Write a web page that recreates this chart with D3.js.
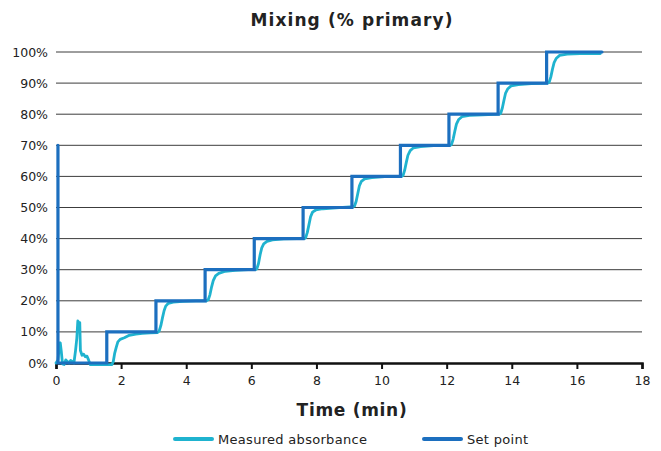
<!DOCTYPE html>
<html>
<head>
<meta charset="utf-8">
<script src="https://cdn.jsdelivr.net/npm/d3@7"></script>
<style>
  html, body { margin: 0; padding: 0; background: #fff; }
  text { font-family: "DejaVu Sans", Verdana, sans-serif; }
</style>
</head>
<body>
<svg id="chart" width="661" height="451"></svg>
<script>
// ---- Data ----
const chartTitle = "Mixing (% primary)";
const xAxisTitle = "Time (min)";
const seriesNames = ["Measured absorbance", "Set point"];
const xTicks = [0, 2, 4, 6, 8, 10, 12, 14, 16, 18];
const yTicks = [0, 10, 20, 30, 40, 50, 60, 70, 80, 90, 100];

// Set point (step-after): time (min), value (%)
const setTimes  = [0.06, 0.06, 1.56, 3.07, 4.58, 6.09, 7.59, 9.09, 10.58, 12.07, 13.58, 15.07, 16.77];
const setValues = [70,   0,    10,   20,   30,   40,   50,   60,   70,    80,    90,    100,   100];

// Measured absorbance: time (min), value (%)
const measTimes = [
  0, 0.06, 0.1, 0.13, 0.16, 0.2, 0.25, 0.3, 0.35, 0.4, 0.45, 0.5, 0.55, 0.6, 0.64, 0.67, 0.7, 0.73, 0.75, 0.8, 0.85, 0.9, 0.95, 1.0, 1.05, 1.3, 1.6, 1.72,
  1.76, 1.8, 1.85, 1.9, 1.97, 2.1, 2.25, 2.45, 2.65, 2.9, 3.12,
  3.17, 3.22, 3.27, 3.32, 3.37, 3.45, 3.6, 3.9, 4.3, 4.62,
  4.68, 4.73, 4.78, 4.83, 4.9, 5.0, 5.2, 5.5, 5.9, 6.13,
  6.17, 6.22, 6.27, 6.32, 6.38, 6.48, 6.65, 7.0, 7.4, 7.63,
  7.67, 7.72, 7.77, 7.82, 7.88, 7.98, 8.2, 8.6, 9.13,
  9.17, 9.22, 9.27, 9.32, 9.38, 9.48, 9.7, 10.1, 10.62,
  10.66, 10.71, 10.76, 10.81, 10.88, 10.98, 11.2, 11.6, 12.11,
  12.15, 12.2, 12.25, 12.3, 12.37, 12.47, 12.7, 13.1, 13.62,
  13.66, 13.71, 13.76, 13.81, 13.88, 13.98, 14.2, 14.6, 15.1,
  15.15, 15.2, 15.25, 15.3, 15.37, 15.47, 15.7, 16.1, 16.72
];
const measValues = [
  0, 1, 5, 6.5, 4, -0.3, -0.5, 1, 0.5, 0, 0.8, 0.5, 0, 4, 8, 13.5, 13, 13, 4, 2.5, 2.8, 2, 2.2, 1, -0.5, -0.5, -0.5, -0.5,
  0.5, 3, 5, 6.8, 7.6, 8.1, 8.9, 9.3, 9.5, 9.7, 9.8,
  10.3, 12, 14.5, 16.8, 18.3, 19.2, 19.6, 19.8, 20, 20,
  20.4, 22, 24.5, 26.5, 28, 28.8, 29.5, 29.8, 30, 30,
  30.3, 32, 34.8, 37, 38.3, 39.1, 39.6, 39.9, 40, 40,
  40.3, 42, 44.5, 47, 48.5, 49.2, 49.6, 49.9, 50.3,
  50.5, 52, 54.5, 57, 58.4, 59.2, 59.6, 59.9, 60,
  60.3, 62, 64.5, 66.8, 68.3, 69.2, 69.6, 69.9, 70,
  70.3, 72, 74.5, 76.8, 78.3, 79.2, 79.6, 79.8, 80,
  80.3, 82, 84.5, 86.8, 88.2, 89.1, 89.5, 89.8, 90,
  90.3, 92, 94.5, 96.6, 98, 98.9, 99.3, 99.5, 99.5
];

// ---- Chart ----
const colors = { measured: "#1fb3cf", setpoint: "#1c6fbf" };
const svg = d3.select("#chart");
svg.append("rect").attr("width", 661).attr("height", 451).attr("fill", "#fff");

const x = d3.scaleLinear().domain([0, 18]).range([56, 642]);
const y = d3.scaleLinear().domain([0, 100]).range([363, 52]);

// gridlines
svg.append("g")
  .selectAll("line")
  .data(yTicks.filter(d => d > 0))
  .join("line")
  .attr("x1", x(0)).attr("x2", x(18))
  .attr("y1", d => y(d)).attr("y2", d => y(d))
  .attr("stroke", "#3c3c3c").attr("stroke-width", 1);

// y tick labels
svg.append("g")
  .selectAll("text")
  .data(yTicks)
  .join("text")
  .attr("x", 48).attr("y", d => y(d))
  .attr("dy", "0.36em")
  .attr("text-anchor", "end")
  .attr("font-size", "12.5px")
  .attr("fill", "#222")
  .text(d => d + "%");

// x axis
const xAxis = d3.axisBottom(x).tickValues(xTicks).tickSize(6).tickPadding(7).tickFormat(d3.format("d"));
const gx = svg.append("g").attr("transform", `translate(0,${y(0)})`).call(xAxis);
gx.select(".domain").attr("stroke", "#111").attr("stroke-width", 2.5);
gx.selectAll(".tick line").attr("stroke", "#111").attr("stroke-width", 2);
gx.selectAll(".tick text").attr("font-size", "12.5px").attr("fill", "#222")
  .attr("font-family", "DejaVu Sans, sans-serif");

// series
const setData = setTimes.map((t, i) => [t, setValues[i]]);
const measData = measTimes.map((t, i) => [t, measValues[i]]);

const stepLine = d3.line().x(d => x(d[0])).y(d => y(d[1])).curve(d3.curveStepAfter);
const plainLine = d3.line().x(d => x(d[0])).y(d => y(d[1]));

svg.append("path").datum(measData)
  .attr("d", plainLine)
  .attr("fill", "none")
  .attr("stroke", colors.measured)
  .attr("stroke-width", 2.8)
  .attr("stroke-linejoin", "round")
  .attr("stroke-linecap", "round");

svg.append("path").datum(setData)
  .attr("d", stepLine)
  .attr("fill", "none")
  .attr("stroke", colors.setpoint)
  .attr("stroke-width", 3.2)
  .attr("stroke-linejoin", "miter")
  .attr("stroke-linecap", "round");

// title
svg.append("text")
  .attr("x", 352).attr("y", 26)
  .attr("text-anchor", "middle")
  .attr("font-size", "17px").attr("font-weight", "bold")
  .attr("letter-spacing", "1.1px")
  .attr("fill", "#222")
  .text(chartTitle);

// axis title
svg.append("text")
  .attr("x", 352).attr("y", 416)
  .attr("text-anchor", "middle")
  .attr("font-size", "17px").attr("font-weight", "bold")
  .attr("letter-spacing", "0.7px")
  .attr("fill", "#222")
  .text(xAxisTitle);

// legend
const legendItems = [
  { name: seriesNames[0], color: colors.measured, x1: 175, x2: 212 },
  { name: seriesNames[1], color: colors.setpoint, x1: 424, x2: 461 }
];
const lg = svg.append("g");
legendItems.forEach(it => {
  lg.append("line")
    .attr("x1", it.x1).attr("x2", it.x2)
    .attr("y1", 439).attr("y2", 439)
    .attr("stroke", it.color).attr("stroke-width", 4)
    .attr("stroke-linecap", "round");
  lg.append("text")
    .attr("x", it.x2 + 6).attr("y", 443.5)
    .attr("font-size", "13px")
    .attr("letter-spacing", "0.3px")
    .attr("fill", "#222")
    .text(it.name);
});
</script>
</body>
</html>
